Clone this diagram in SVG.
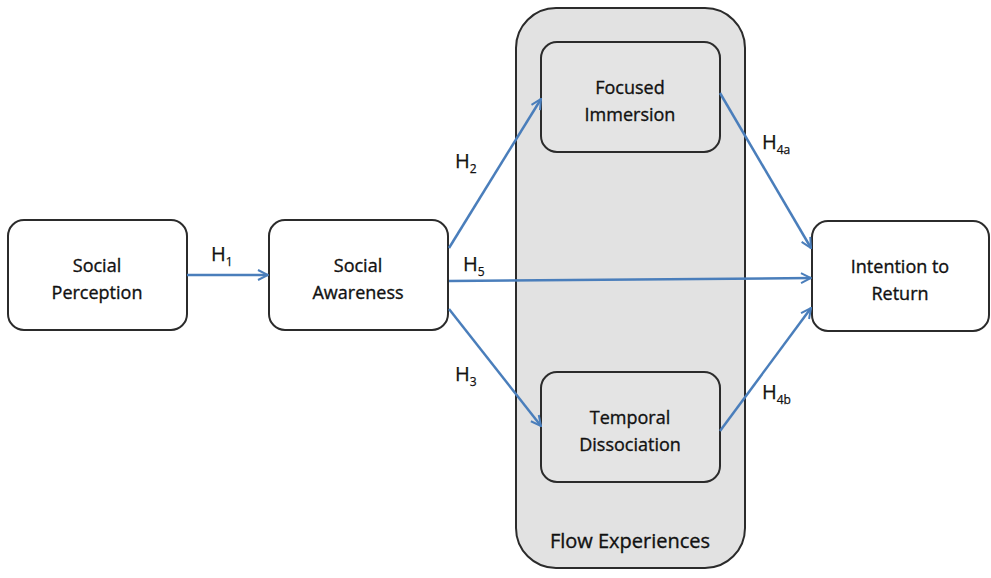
<svg xmlns="http://www.w3.org/2000/svg" width="991" height="578" viewBox="0 0 991 578">
<defs>
<marker id="ah" viewBox="0 0 10 10" refX="9" refY="5" markerWidth="5" markerHeight="5" orient="auto" markerUnits="strokeWidth">
<path d="M1,1 L9,5 L1,9" fill="none" stroke="#4a7ebb" stroke-width="1.6"/>
</marker>
<style>
.box{fill:#ffffff;stroke:#2b2b2b;stroke-width:2}
.gbox{fill:#e4e4e4;stroke:#2b2b2b;stroke-width:2}
.outer{fill:#e2e2e2;stroke:#2b2b2b;stroke-width:2}
.lbl{font-family:"Open Sans","Liberation Sans",sans-serif;font-size:18px;fill:#111;stroke:#111;stroke-width:0.35;text-anchor:middle}
.h{font-family:"Open Sans","Liberation Sans",sans-serif;font-size:20px;fill:#111;stroke:#111;stroke-width:0.25}
.sub{font-size:12px}
.edge{stroke:#4a7ebb;stroke-width:2.5;fill:none;marker-end:url(#ah)}
</style>
</defs>
<rect width="991" height="578" fill="#ffffff"/>
<g id="flow">
<rect class="outer" x="516" y="8" width="229" height="560" rx="40"/>
<text class="lbl" x="630" y="548" style="font-size:20px">Flow Experiences</text>
</g>
<g id="social-perception">
<rect class="box" x="8" y="220" width="179" height="110" rx="16"/>
<text class="lbl" x="97" y="272">Social</text>
<text class="lbl" x="97" y="299">Perception</text>
</g>
<g id="social-awareness">
<rect class="box" x="269" y="220" width="179" height="110" rx="16"/>
<text class="lbl" x="358" y="272">Social</text>
<text class="lbl" x="358" y="299">Awareness</text>
</g>
<g id="focused-immersion">
<rect class="gbox" x="541" y="42" width="179" height="110" rx="16"/>
<text class="lbl" x="630" y="94">Focused</text>
<text class="lbl" x="630" y="121">Immersion</text>
</g>
<g id="temporal-dissociation">
<rect class="gbox" x="541" y="372" width="179" height="110" rx="16"/>
<text class="lbl" x="630" y="424">Temporal</text>
<text class="lbl" x="630" y="451">Dissociation</text>
</g>
<g id="intention-to-return">
<rect class="box" x="812" y="221" width="177" height="110" rx="16"/>
<text class="lbl" x="900" y="273">Intention to</text>
<text class="lbl" x="900" y="300">Return</text>
</g>
<g id="connectors">
<line class="edge" x1="187" y1="275" x2="268" y2="275"/>
<line class="edge" x1="449" y1="248" x2="541" y2="99"/>
<line class="edge" x1="449" y1="281" x2="811" y2="278"/>
<line class="edge" x1="449" y1="309" x2="541" y2="426"/>
<line class="edge" x1="720" y1="93" x2="811" y2="248"/>
<line class="edge" x1="720" y1="431" x2="811" y2="308"/>
</g>
<g id="labels">
<text class="h" x="211" y="261">H<tspan class="sub" dy="5">1</tspan></text>
<text class="h" x="455" y="168">H<tspan class="sub" dy="5">2</tspan></text>
<text class="h" x="455" y="381">H<tspan class="sub" dy="5">3</tspan></text>
<text class="h" x="463" y="271">H<tspan class="sub" dy="5">5</tspan></text>
<text class="h" x="762" y="149">H<tspan class="sub" dy="5">4a</tspan></text>
<text class="h" x="762" y="399">H<tspan class="sub" dy="5">4b</tspan></text>
</g>
</svg>
